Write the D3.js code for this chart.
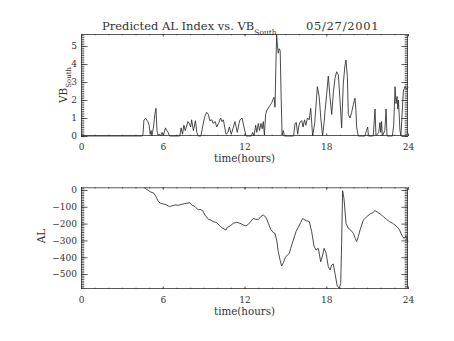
<!DOCTYPE html>
<html>
<head>
<meta charset="utf-8">
<script src="https://cdn.jsdelivr.net/npm/d3@7"></script>
<style>
  html, body { margin: 0; padding: 0; background: #fff; }
  svg { display: block; }
  text { font-family: "DejaVu Serif", "Liberation Serif", serif; fill: #333; }
</style>
</head>
<body>
<svg id="chart" width="454" height="341"></svg>
<script>
// Tick values for both panels
const hourTicks = [0, 6, 12, 18, 24];
const hourMinor = d3.range(0, 25, 1);
const vbTicks = [0, 1, 2, 3, 4, 5];
const alTicks = [0, -100, -200, -300, -400, -500];

// Southward IMF VB (mV/m) against UT hours
const vbTime = [0, 4.5, 4.55, 4.62, 4.75, 4.9, 5.0, 5.08, 5.15, 5.2, 5.32, 5.42, 5.5, 5.58, 5.65, 5.75, 5.85, 5.95, 6.05, 6.2, 6.3, 6.4, 6.5,
  7.25, 7.35, 7.45, 7.55, 7.65, 7.85, 7.95, 8.05, 8.12, 8.25, 8.4, 8.5, 8.61,
  8.8, 8.95, 9.08, 9.22, 9.35, 9.45, 9.6, 9.7, 9.85, 9.96, 10.1, 10.25, 10.35, 10.45, 10.64, 10.78, 10.89, 11.03, 11.15, 11.3, 11.47, 11.6, 11.67, 11.82, 11.96, 12.11,
  12.5, 12.6, 12.7, 12.82, 12.9, 13.02, 13.1, 13.21, 13.3, 13.38, 13.46, 13.55, 13.63, 13.75, 13.87, 14.0, 14.07, 14.17, 14.24, 14.3, 14.36, 14.42, 14.48, 14.55, 14.62, 14.68, 14.76, 14.85, 14.92,
  15.6, 15.65, 15.71, 15.8, 15.9, 16.0, 16.1, 16.2, 16.3, 16.4, 16.5, 16.62, 16.75, 16.86, 17.0, 17.15, 17.35, 17.48, 17.6, 17.73,
  17.85, 17.91, 18.03, 18.15, 18.27, 18.4, 18.52, 18.64, 18.76, 18.89, 19.0, 19.13, 19.25, 19.37, 19.45, 19.55, 19.62, 19.74, 19.86, 19.99, 20.11, 20.18, 20.23, 20.35,
  20.84, 20.95, 21.04, 21.1, 21.45, 21.58, 21.65, 21.85, 21.94, 22.0, 22.06, 22.12, 22.3, 22.39, 22.46, 22.85, 22.95, 23.05, 23.12, 23.2, 23.25, 23.3, 23.41, 23.48, 23.55, 23.66, 23.78, 23.9, 24.0];
const vbValue = [0, 0, 0.1, 0.89, 0.98, 0.8, 0.6, 0.1, 0.3, 0, 0.5, 1.2, 1.54, 0.3, 0.05, 0.1, 0, 0.2, 0.05, 0.45, 0.3, 0.2, 0,
  0, 0.45, 0.1, 0.6, 0.3, 0.8, 0.7, 0.5, 0.9, 0.3, 0.85, 0.2, 0,
  0, 0.6, 1.07, 1.32, 1.2, 0.85, 0.9, 0.7, 0.8, 0.5, 0.7, 1.0, 0.8, 0.9, 0.1, 0.2, 0.5, 0.1, 0.4, 0.8, 0.2, 0.7, 0.9, 1.0, 0.5, 0,
  0, 0.2, 0, 0.6, 0.2, 0.7, 0.3, 0.7, 0.4, 0.8, 0.05, 1.2, 1.4, 1.55, 1.7, 1.85, 2.0, 2.15, 1.6, 3.8, 5.61, 5.0, 4.6, 4.85, 4.75, 2.5, 0.05, 0.3, 0,
  0, 0.3, 0.7, 0.75, 0.1, 0.6, 0.8, 0.85, 0.5, 0.9, 0.6, 1.0, 0.9, 1.54, 0, 0.7, 2.74, 2.2, 1.0, 0,
  0.8, 1.4, 2.3, 3.33, 2.2, 1.2, 2.4, 3.2, 3.57, 3.4, 2.1, 0.45, 2.9, 3.9, 4.22, 3.3, 1.2, 1.0, 1.3, 1.75, 2.1, 1.4, 0.5, 0,
  0, 0.3, 0.5, 0, 0, 1.5, 0, 0.2, 0.75, 0.2, 0.8, 0, 0.3, 1.5, 0, 0, 0.6, 2.74, 1.8, 2.2, 1.5, 2.0, 0.3, 0, 1.0, 2.5, 2.75, 2.6, 2.7];

// Predicted AL index (nT) against UT hours
const alTime = [4.62, 5.06, 5.36, 5.5, 5.68, 5.85, 6.04, 6.29, 6.48, 6.65, 6.9, 7.14, 7.39, 7.76, 8.0, 8.12, 8.37, 8.61, 8.73, 8.93, 9.1, 9.35, 9.52, 9.71, 9.96,
  10.2, 10.4, 10.64, 10.74, 10.94, 11.18, 11.43, 11.67, 11.91, 12.11, 12.28, 12.45, 12.65, 12.84, 13.02, 13.19, 13.38, 13.58, 13.75, 13.92,
  14.12, 14.24, 14.36, 14.48, 14.61, 14.73, 14.85, 15.0, 15.14, 15.29, 15.39, 15.58, 15.78, 15.95, 16.12, 16.27, 16.44, 16.56, 16.76, 16.93,
  17.1, 17.25, 17.42, 17.59, 17.74, 17.84, 17.98, 18.15, 18.28, 18.4, 18.52, 18.64, 18.81, 18.96, 19.06, 19.13, 19.2, 19.3, 19.45, 19.62,
  19.79, 19.99, 20.13, 20.23, 20.35, 20.48, 20.72, 20.97, 21.21, 21.41, 21.58, 21.82, 22.07, 22.19, 22.43, 22.63, 22.87, 23.12, 23.36,
  23.54, 23.71, 23.85, 24.0];
const alValue = [16, -10, -20, -40, -69, -79, -83, -89, -99, -95, -89, -91, -85, -79, -75, -89, -99, -119, -115, -123, -149, -175, -179, -188, -194,
  -214, -228, -238, -222, -214, -198, -192, -198, -208, -214, -204, -188, -169, -175, -175, -159, -149, -163, -198, -234,
  -254, -258, -298, -367, -417, -452, -433, -401, -387, -377, -347, -298, -248, -222, -194, -169, -179, -183, -188, -248,
  -333, -357, -347, -427, -387, -347, -373, -456, -476, -446, -440, -496, -571, -585, -556, -317, -4, -50, -198, -228,
  -238, -258, -288, -307, -278, -238, -179, -159, -143, -135, -123, -135, -149, -159, -175, -188, -198, -214, -234,
  -268, -288, -274, -307];

const svg = d3.select("#chart");
const ink = "#333";
const plotLeft = 81, plotRight = 408;

function minorValues(lo, hi, step) {
  const out = [];
  for (let v = lo; v <= hi + 1e-9; v += step) out.push(+v.toFixed(4));
  return out;
}

function drawPanel(opts) {
  const g = svg.append("g");
  const x = d3.scaleLinear().domain([0, 24]).range([plotLeft, plotRight]);
  const y = d3.scaleLinear().domain(opts.yDomain).range([opts.bottom, opts.top]);
  const w = plotRight - plotLeft, h = opts.bottom - opts.top;
  const yMajor = 0.02 * w, xMajor = 0.025 * h;

  // minor ticks on all four sides (pointing inward)
  const yMin = minorValues(opts.minorLo, opts.yDomain[1], opts.minorStep).filter(v => v >= opts.yDomain[0] && v <= opts.yDomain[1]);
  const axesSpec = [
    [d3.axisBottom(x).tickValues(hourMinor).tickSize(-xMajor / 2), `translate(0,${opts.bottom})`],
    [d3.axisTop(x).tickValues(hourMinor).tickSize(-xMajor / 2), `translate(0,${opts.top})`],
    [d3.axisLeft(y).tickValues(yMin).tickSize(-yMajor / 2), `translate(${plotLeft},0)`],
    [d3.axisRight(y).tickValues(yMin).tickSize(-yMajor / 2), `translate(${plotRight},0)`],
    [d3.axisTop(x).tickValues(hourTicks).tickSize(-xMajor), `translate(0,${opts.top})`],
    [d3.axisRight(y).tickValues(opts.yTicks).tickSize(-yMajor), `translate(${plotRight},0)`]
  ];
  axesSpec.forEach(([ax, tr]) => {
    const a = g.append("g").attr("transform", tr).call(ax.tickFormat(""));
    a.select(".domain").remove();
    a.selectAll("line").attr("stroke", ink).attr("stroke-width", 0.8);
  });

  // labelled major axes
  const xa = g.append("g").attr("transform", `translate(0,${opts.bottom})`)
    .call(d3.axisBottom(x).tickValues(hourTicks).tickSize(-xMajor).tickPadding(7.5).tickFormat(d3.format("d")));
  const ya = g.append("g").attr("transform", `translate(${plotLeft},0)`)
    .call(d3.axisLeft(y).tickValues(opts.yTicks).tickSize(-yMajor).tickPadding(4)
      .tickFormat(d => d < 0 ? "\u2212" + Math.abs(d) : String(d)));
  [xa, ya].forEach(a => {
    a.select(".domain").remove();
    a.selectAll("line").attr("stroke", ink).attr("stroke-width", 0.8);
    a.selectAll("text").attr("font-family", "DejaVu Serif").attr("font-size", 9).attr("fill", ink);
  });

  // frame
  g.append("rect")
    .attr("x", plotLeft + 0.5).attr("y", opts.top + 0.5)
    .attr("width", w - 1).attr("height", h - 1)
    .attr("fill", "none").attr("stroke", ink).attr("stroke-width", 0.8);

  // data curve
  const line = d3.line().x(d => x(d[0])).y(d => y(d[1]));
  const pts = opts.t.map((t, i) => [t, opts.v[i]]);
  g.append("path").datum(pts)
    .attr("d", line)
    .attr("fill", "none").attr("stroke", "#2a2a2a").attr("stroke-width", 0.85)
    .attr("stroke-linejoin", "round");

  // x label
  g.append("text")
    .attr("x", (plotLeft + plotRight) / 2).attr("y", opts.bottom + 25.5)
    .attr("text-anchor", "middle").attr("font-size", 10.3)
    .text("time(hours)");
  return g;
}

drawPanel({ top: 34, bottom: 136, yDomain: [0, 5.67], yTicks: vbTicks, minorLo: 0, minorStep: 0.1, t: vbTime, v: vbValue });
drawPanel({ top: 187.3, bottom: 289, yDomain: [-589, 16], yTicks: alTicks, minorLo: -580, minorStep: 10, t: alTime, v: alValue });

// title with subscript
const title = svg.append("text").attr("x", 102).attr("y", 30).attr("font-size", 11.5);
title.append("tspan").text("Predicted AL Index vs. VB");
title.append("tspan").attr("dy", 4.5).attr("font-size", 7.5).text("South");
svg.append("text").attr("x", 306).attr("y", 30).attr("font-size", 11.5).attr("letter-spacing", 0.7).text("05/27/2001");

// y-axis labels
const vbLab = svg.append("text").attr("transform", "translate(67,85) rotate(-90)")
  .attr("text-anchor", "middle").attr("font-size", 10.5);
vbLab.append("tspan").text("VB");
vbLab.append("tspan").attr("dy", 3.5).attr("font-size", 7).text("South");

svg.append("text").attr("transform", "translate(44.5,236) rotate(-90)")
  .attr("text-anchor", "middle").attr("font-size", 10.5).text("AL");
</script>
</body>
</html>
